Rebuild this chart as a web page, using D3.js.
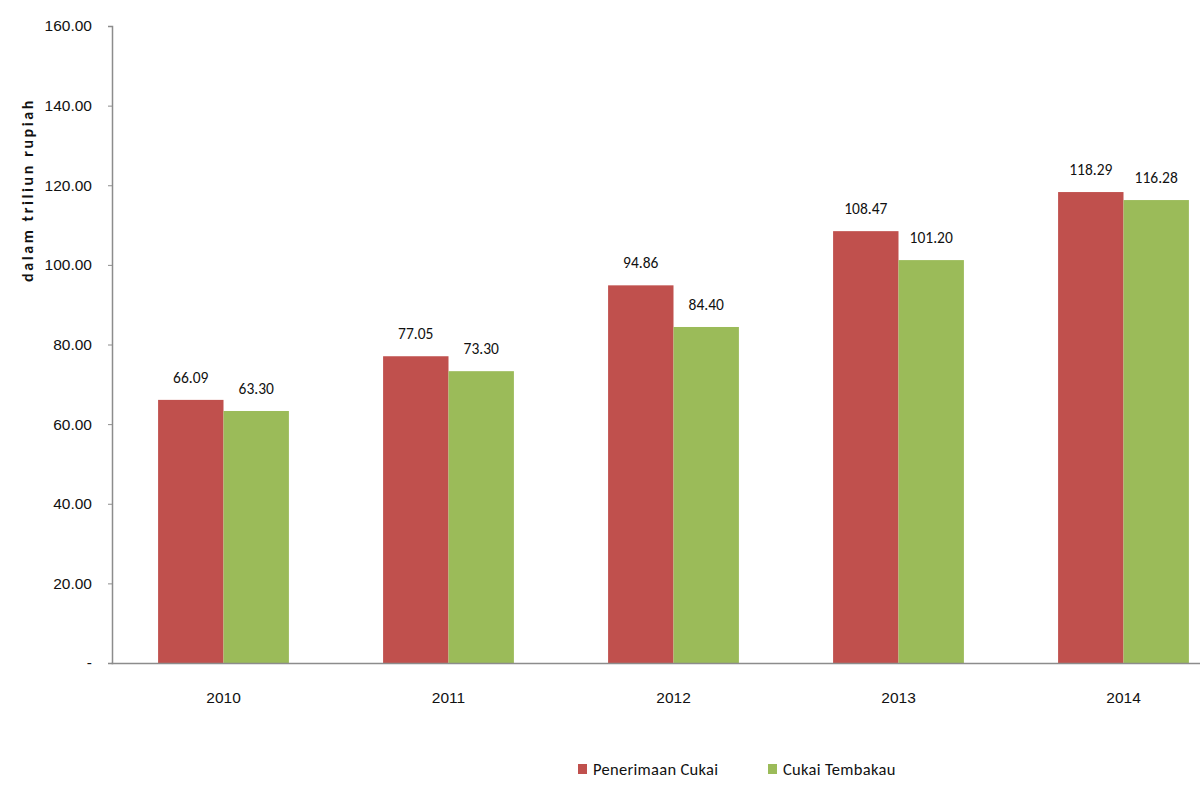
<!DOCTYPE html>
<html>
<head>
<meta charset="utf-8">
<script src="https://cdn.jsdelivr.net/npm/d3@7"></script>
<style>
  body { margin: 0; background: #fff; }
  svg { display: block; font-family: Carlito, "Liberation Sans", Arial, sans-serif; }
</style>
</head>
<body>
<svg id="chart" width="1200" height="800"></svg>
<script>
const years = ["2010", "2011", "2012", "2013", "2014"];
const seriesNames = ["Penerimaan Cukai", "Cukai Tembakau"];
const penerimaan = [66.09, 77.05, 94.86, 108.47, 118.29];
const tembakau = [63.30, 73.30, 84.40, 101.20, 116.28];
const yTicks = [0, 20, 40, 60, 80, 100, 120, 140, 160];
const colors = ["#C0504D", "#9BBB59"];

const svg = d3.select("#chart");

// -- Scales --
const x = d3.scaleBand().domain(years).range([111, 1236]).paddingInner(0).paddingOuter(0);
const sub = d3.scaleBand().domain(seriesNames).range([0, x.bandwidth()]).paddingInner(0).paddingOuter(0.72);
const y = d3.scaleLinear().domain([0, 160]).range([663, 26]);

const rows = years.map((yr, i) => ({ year: yr, values: [penerimaan[i], tembakau[i]] }));

// -- Y axis --
const yAxis = d3.axisLeft(y).tickValues(yTicks).tickSize(4).tickPadding(16)
    .tickFormat(d => d === 0 ? "-" : d3.format(".2f")(d));
const yg = svg.append("g").attr("transform", "translate(112,0)").call(yAxis);
yg.select(".domain").attr("stroke", "#8c8c8c").attr("stroke-width", 1.5);
yg.selectAll(".tick line").attr("stroke", "#8c8c8c");
yg.selectAll(".tick text").attr("fill", "#111").style("font-size", "15.5px");

// -- Bars --
const groups = svg.selectAll(".year").data(rows).enter()
    .append("g").attr("class", "year")
    .attr("transform", d => `translate(${x(d.year)},0)`);

groups.selectAll("rect")
    .data(d => d.values.map((v, k) => ({ name: seriesNames[k], value: v, k })))
    .enter().append("rect")
    .attr("x", d => sub(d.name))
    .attr("y", d => y(d.value))
    .attr("width", sub.bandwidth())
    .attr("height", d => y(0) - y(d.value))
    .attr("fill", d => colors[d.k]);

groups.selectAll("text.lbl")
    .data(d => d.values.map((v, k) => ({ name: seriesNames[k], value: v })))
    .enter().append("text").attr("class", "lbl")
    .attr("x", d => sub(d.name) + sub.bandwidth() / 2)
    .attr("y", d => y(d.value) - 17)
    .attr("text-anchor", "middle")
    .attr("fill", "#111")
    .style("font-size", "15.5px")
    .text(d => d3.format(".2f")(d.value));

// -- X axis --
const xg = svg.append("g").attr("transform", "translate(0,663)")
    .call(d3.axisBottom(x).tickSize(0).tickPadding(29));
xg.select(".domain").attr("stroke", "#8c8c8c").attr("stroke-width", 1.5);
xg.selectAll(".tick text").attr("fill", "#111").style("font-size", "15.5px");

// -- Y title --
svg.append("text")
    .attr("transform", "translate(33,190) rotate(-90)")
    .attr("text-anchor", "middle")
    .attr("fill", "#111")
    .style("font-size", "16px")
    .style("font-weight", "bold")
    .style("letter-spacing", "2.6px")
    .text("dalam triliun rupiah");

// -- Legend --
const legendX = [578, 768];
const legend = svg.selectAll(".legend").data(seriesNames).enter()
    .append("g").attr("class", "legend")
    .attr("transform", (d, i) => `translate(${legendX[i]},764)`);
legend.append("rect").attr("width", 9).attr("height", 10).attr("fill", (d, i) => colors[i]);
legend.append("text").attr("x", 15).attr("y", 11)
    .attr("fill", "#111").style("font-size", "16.5px").style("letter-spacing", "0.3px").text(d => d);
</script>
</body>
</html>
